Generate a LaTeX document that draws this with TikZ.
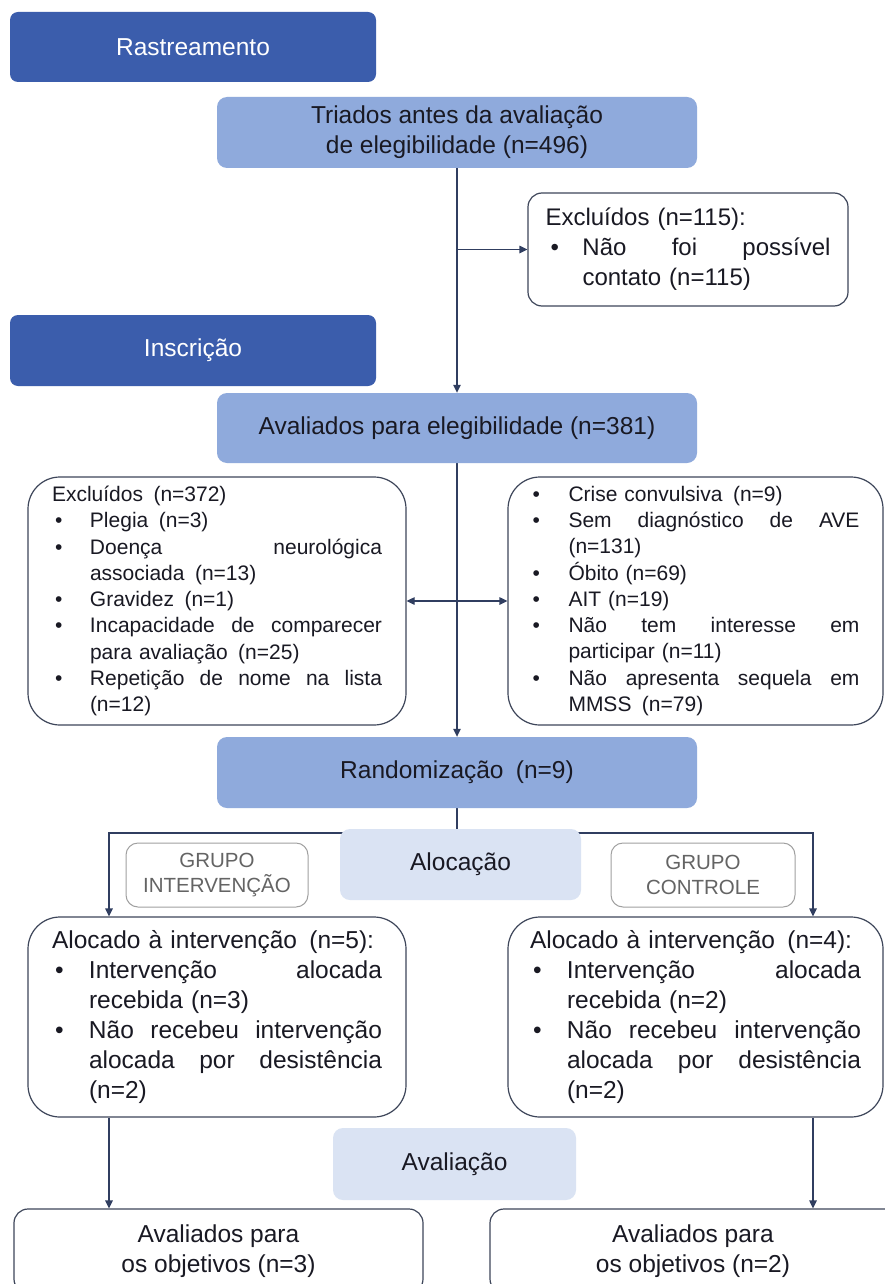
\documentclass[tikz,border=0pt]{standalone}
\usepackage{fontspec}
\setmainfont{Liberation Sans}
\usetikzlibrary{arrows.meta}
\definecolor{dkblue}{RGB}{59,93,172}
\definecolor{mdblue}{RGB}{143,170,220}
\definecolor{ltblue}{RGB}{218,227,243}
\definecolor{bordc}{RGB}{62,70,90}
\definecolor{lncol}{RGB}{48,62,96}
\definecolor{txtc}{RGB}{25,25,35}
\definecolor{grpbord}{RGB}{160,160,160}
\definecolor{grptxt}{RGB}{100,100,100}
\newcommand\dsp{\hspace{0.5em}}
\newcommand\bu[2]{\makebox[#2pt][l]{\hspace*{#1pt}•}}
\newcommand\jus[2]{\makebox[#1pt][s]{\spaceskip=0.278em plus 1fil\xspaceskip=0.278em plus 1fil\relax #2}}
\pgfdeclarelayer{bg}
\pgfsetlayers{bg,main}
\tikzset{
  sz/.style n args={2}{minimum width=#1pt, minimum height=#2pt},
  bigf/.style={font=\fontsize{24.5}{30}\selectfont},
  darkbox/.style={fill=dkblue, draw=none, rounded corners=8pt, text=white, inner sep=0pt, bigf},
  midbox/.style={fill=mdblue, draw=none, rounded corners=10pt, text=txtc, inner sep=0pt, align=center, bigf},
  lightbox/.style={fill=ltblue, draw=none, rounded corners=10pt, text=txtc, inner sep=0pt, align=center, bigf},
  wbox/.style={fill=white, draw=bordc, line width=1.2pt, rounded corners=32pt, text=txtc, inner sep=0pt, align=left},
  grpbox/.style={fill=white, draw=grpbord, line width=1pt, rounded corners=12pt, text=grptxt, inner sep=0pt, align=center, font=\fontsize{20.5}{24.5}\selectfont},
  conn/.style={draw=lncol, line width=1.2pt},
  arr/.style={conn, -{Triangle[length=8pt,width=7.5pt]}},
  darr/.style={conn, {Triangle[length=8pt,width=7.5pt]}-{Triangle[length=8pt,width=7.5pt]}},
}
\begin{document}
\begin{tikzpicture}[x=1pt,y=-1pt]
\useasboundingbox (0,0) rectangle (885,1284);

\node[darkbox, sz={366}{70}] (rast) at (193,47) {Rastreamento};
\node[midbox, sz={480}{71}] (triad) at (457,132.5) {Triados antes da avaliação\\de elegibilidade (n=496)};
\node[wbox, rounded corners=14pt, sz={320}{113}, text width=285pt, font=\fontsize{24}{30}\selectfont] (ex1) at (688,249.5)
  {Excluídos (n=115):\\ \bu{5}{37}\jus{248}{Não foi possível}\\ \hspace*{37pt}contato (n=115)};
\node[darkbox, sz={366}{71}] (insc) at (193,350.5) {Inscrição};
\node[midbox, sz={480}{70}] (aval) at (457,428) {Avaliados para elegibilidade (n=381)};

\node[wbox, sz={378}{248}, text width=330pt, font=\fontsize{21}{26.25}\selectfont] (exL) at (217,601)
  {Excluídos\dsp(n=372)\\
   \bu{3}{38}Plegia\dsp(n=3)\\
   \bu{3}{38}\jus{292}{Doença neurológica}\\
   \hspace*{38pt}associada\dsp(n=13)\\
   \bu{3}{38}Gravidez\dsp(n=1)\\
   \bu{3}{38}\jus{292}{Incapacidade de comparecer}\\
   \hspace*{38pt}para avaliação\dsp(n=25)\\
   \bu{3}{38}\jus{292}{Repetição de nome na lista}\\
   \hspace*{38pt}(n=12)};
\node[wbox, sz={375}{248}, text width=328pt, font=\fontsize{21}{26.25}\selectfont] (exR) at (695.5,601)
  {\bu{1}{37}Crise convulsiva\dsp(n=9)\\
   \bu{1}{37}\jus{291}{Sem diagnóstico de AVE}\\
   \hspace*{37pt}(n=131)\\
   \bu{1}{37}Óbito (n=69)\\
   \bu{1}{37}AIT (n=19)\\
   \bu{1}{37}\jus{291}{Não tem interesse em}\\
   \hspace*{37pt}participar (n=11)\\
   \bu{1}{37}\jus{291}{Não apresenta sequela em}\\
   \hspace*{37pt}MMSS\dsp(n=79)};

\node[midbox, sz={480}{71}] (rand) at (457,772.5) {Randomização\dsp(n=9)};
\node[lightbox, sz={241}{71}] (aloc) at (460.5,864.5) {Alocação};
\node[grpbox, sz={182}{64}] (grpI) at (217,875) {GRUPO\\INTERVENÇÃO};
\node[grpbox, sz={184}{64}] (grpC) at (703,875) {GRUPO\\CONTROLE};

\node[wbox, sz={378}{200}, text width=330pt, bigf] (alL) at (217,1017)
  {Alocado à intervenção\dsp(n=5):\\
   \bu{3}{37}\jus{293}{Intervenção alocada}\\
   \hspace*{37pt}recebida (n=3)\\
   \bu{3}{37}\jus{293}{Não recebeu intervenção}\\
   \hspace*{37pt}\jus{293}{alocada por desistência}\\
   \hspace*{37pt}(n=2)};
\node[wbox, sz={375}{200}, text width=331pt, bigf] (alR) at (695.5,1017)
  {Alocado à intervenção\dsp(n=4):\\
   \bu{3}{37}\jus{294}{Intervenção alocada}\\
   \hspace*{37pt}recebida (n=2)\\
   \bu{3}{37}\jus{294}{Não recebeu intervenção}\\
   \hspace*{37pt}\jus{294}{alocada por desistência}\\
   \hspace*{37pt}(n=2)};

\node[lightbox, sz={243}{72}] (avalia) at (454.5,1164) {Avaliação};
\node[wbox, rounded corners=14pt, sz={409}{84}, align=center, bigf] (bL) at (218.5,1251) {Avaliados para\\os objetivos (n=3)};
\node[wbox, rounded corners=14pt, sz={420}{84}, align=center, bigf] (bR) at (700,1251) {Avaliados para\hspace*{14pt}\\os objetivos (n=2)\hspace*{14pt}};

\begin{pgfonlayer}{bg}
\fill[white] (0,0) rectangle (885,1284);
\draw[arr] (triad.south) -- (aval.north);
\draw[arr] (triad.south |- ex1.west) -- (ex1.west);
\draw[arr] (aval.south) -- (rand.north);
\draw[darr] (exL.east) -- (exR.west);
\coordinate (split) at (457,833);
\coordinate (sL) at (109,833);
\coordinate (sR) at (813,833);
\draw[conn] (rand.south) -- (split);
\draw[arr] (split) -- (sL) -- (sL |- alL.north);
\draw[arr] (split) -- (sR) -- (sR |- alR.north);
\draw[arr] (alL.south -| sL) -- (bL.north -| sL);
\draw[arr] (alR.south -| sR) -- (bR.north -| sR);
\end{pgfonlayer}
\end{tikzpicture}
\end{document}
